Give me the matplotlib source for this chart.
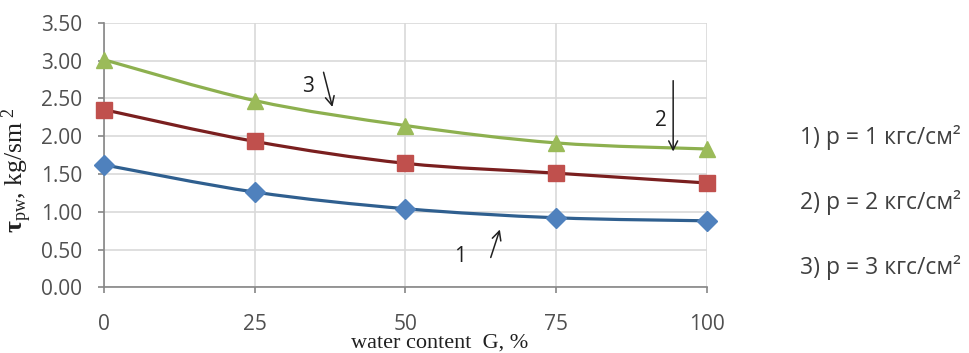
import matplotlib
matplotlib.use("Agg")
import matplotlib.pyplot as plt
from matplotlib.path import Path
from matplotlib.patches import PathPatch

plt.rcParams['mathtext.fontset'] = 'custom'
plt.rcParams['mathtext.rm'] = 'Liberation Serif'
plt.rcParams['mathtext.it'] = 'Liberation Serif:italic'
plt.rcParams['mathtext.bf'] = 'Liberation Serif:bold'

# water content G, %
water = [0, 25, 50, 75, 100]
# shear stress for each pressure
p1 = [1.62, 1.26, 1.04, 0.92, 0.88]
p2 = [2.35, 1.93, 1.64, 1.51, 1.38]
p3 = [3.01, 2.47, 2.14, 1.91, 1.83]
legend_labels = ['1) p = 1 кгс/см²', '2) p = 2 кгс/см²', '3) p = 3 кгс/см²']
y_ticks = [0.0, 0.5, 1.0, 1.5, 2.0, 2.5, 3.0, 3.5]

series = [
    (p1, '#4F81BD', '#2F5F8F', 'D', 10),
    (p2, '#C0504D', '#7A1F1F', 's', 11),
    (p3, '#9BBB59', '#8DB04F', '^', 12),
]


def smooth_path(xs, ys):
    # excel-like smoothed line: cubic bezier through the points
    verts = [(xs[0], ys[0])]
    codes = [Path.MOVETO]
    n = len(xs)
    for i in range(n - 1):
        x0, y0 = (xs[i - 1], ys[i - 1]) if i > 0 else (xs[i], ys[i])
        x1, y1 = xs[i], ys[i]
        x2, y2 = xs[i + 1], ys[i + 1]
        x3, y3 = (xs[i + 2], ys[i + 2]) if i + 2 < n else (x2, y2)
        c1 = (x1 + (x2 - x0) / 6, y1 + (y2 - y0) / 6)
        c2 = (x2 - (x3 - x1) / 6, y2 - (y3 - y1) / 6)
        verts += [c1, c2, (x2, y2)]
        codes += [Path.CURVE4] * 3
    return Path(verts, codes)


fig = plt.figure(figsize=(9.7, 3.53), dpi=100)
ax = fig.add_axes([0.1072, 0.186, 0.6216, 0.7497])

for vals, mcol, lcol, mk, ms in series:
    ax.add_patch(PathPatch(smooth_path(water, vals), facecolor='none',
                           edgecolor=lcol, lw=2.3, zorder=3))
    ax.plot(water, vals, linestyle='none', marker=mk, markersize=ms,
            markerfacecolor=mcol, markeredgecolor=mcol, zorder=4, clip_on=False)

ax.set_xlim(0, 100)
ax.set_ylim(0, 3.5)
ax.set_xticks(water)
ax.set_yticks(y_ticks)
ax.set_yticklabels(['%.2f' % t for t in y_ticks])
ax.grid(True, color='#D9D9D9', lw=1.2)
ax.set_axisbelow(True)
for s in ['top', 'right']:
    ax.spines[s].set_visible(False)
for s in ['left', 'bottom']:
    ax.spines[s].set_color('#868686')
    ax.spines[s].set_linewidth(1.2)
ax.tick_params(axis='both', colors='#868686', length=4.5, width=1.2,
               labelcolor='#505050', labelsize=15)
ax.tick_params(axis='y', pad=11)
ax.tick_params(axis='x', pad=15)
for lab in ax.get_xticklabels() + ax.get_yticklabels():
    lab.set_fontfamily('Open Sans')

# curve annotations
ax.text(33.8, 2.66, '3', fontsize=15, family='Open Sans', color='#202020',
        ha='center', va='center')
ax.annotate('', xy=(38.0, 2.35), xytext=(36.3, 2.88),
            arrowprops=dict(arrowstyle='->', color='#202020', lw=1.1,
                            mutation_scale=16))
ax.text(92.4, 2.21, '2', fontsize=15, family='Open Sans', color='#202020',
        ha='center', va='center')
ax.annotate('', xy=(94.4, 1.76), xytext=(94.4, 2.77),
            arrowprops=dict(arrowstyle='->', color='#202020', lw=1.1,
                            mutation_scale=16))
ax.text(59.0, 0.41, '1', fontsize=15, family='Open Sans', color='#202020',
        ha='center', va='center')
ax.annotate('', xy=(65.8, 0.80), xytext=(64.0, 0.36),
            arrowprops=dict(arrowstyle='->', color='#202020', lw=1.1,
                            mutation_scale=16))

# pressure labels on the right
for i, lab in enumerate(legend_labels):
    fig.text(800 / 970, 1 - (138 + 64.5 * i) / 353, lab, fontsize=16.5,
             family='Open Sans', color='#404040', va='center', ha='left')

fig.text(440 / 970, 1 - 343 / 353, 'water content  G, %', fontsize=16,
         family='Liberation Serif', color='#202020', ha='center', va='center')
fig.text(17 / 970, 1 - 170 / 353, r'$\mathbf{τ}_{\mathrm{pw}}$, kg/sm$^{\ 2}$',
         fontsize=18.5, family='Liberation Serif', color='#202020',
         rotation=90, ha='center', va='center')

fig.savefig('out.png', dpi=100, facecolor='white')
